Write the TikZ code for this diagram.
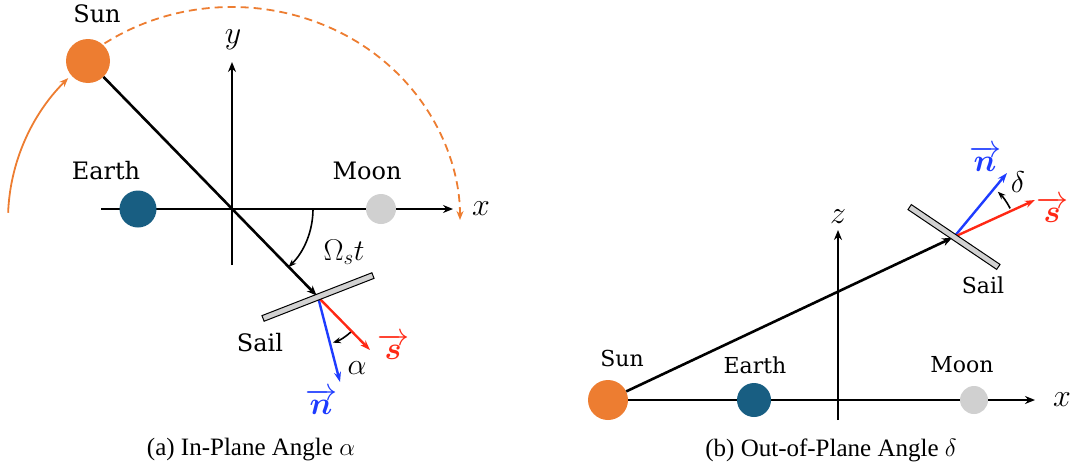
\RequirePackage{fix-cm}
\documentclass[tikz,border=0pt]{standalone}
\usepackage{amsmath}
\usepackage{fontspec}
\setmainfont{Liberation Serif}
\newfontfamily\lblfont{DejaVu Serif}
\usetikzlibrary{arrows.meta,backgrounds,calc}
\definecolor{sunc}{RGB}{237,125,49}
\definecolor{earthc}{RGB}{24,94,130}
\definecolor{moonc}{RGB}{208,208,208}
\definecolor{nblue}{RGB}{30,60,255}
\definecolor{sred}{RGB}{255,40,20}
\definecolor{sailc}{RGB}{210,210,210}
\newcommand{\myvec}[1]{\overrightarrow{\boldsymbol{#1}}}
\tikzset{
  axisline/.style={line width=2.6pt, -{Stealth[length=10pt,width=8pt]}},
  sunline/.style={line width=2.6pt, -{Stealth[length=10pt,width=8pt]}},
  body/.style={circle, inner sep=0pt},
  lbl/.style={font=\lblfont\fontsize{24}{28}\selectfont, inner sep=0pt},
  lblsm/.style={font=\lblfont\fontsize{22}{26}\selectfont, inner sep=0pt},
  mlbl/.style={font=\fontsize{32}{36}\selectfont, inner sep=0pt},
  glbl/.style={font=\fontsize{30}{34}\selectfont, inner sep=0pt},
  vlbl/.style={font=\fontsize{32}{36}\selectfont, inner sep=0pt},
  caplbl/.style={font=\fontsize{25}{29}\selectfont, inner sep=0pt},
  sailbar/.style={draw=black, fill=sailc, line width=1pt, minimum height=6pt, inner sep=0pt},
  vecarrow/.style={line width=2.4pt, -{Stealth[length=10pt,width=7pt]}},
  anglearrow/.style={line width=1.6pt, -{Stealth[length=8pt,width=6pt]}},
  orbit/.style={draw=sunc, line width=1.8pt, -{Stealth[length=9pt,width=7pt]}},
}
\begin{document}
\begin{tikzpicture}[x=1pt,y=-1pt]
\useasboundingbox (0,0) rectangle (1071,471);
% ---------------- left panel ----------------
\coordinate (O) at (232,209);
\coordinate (P) at (318,297);
\coordinate (C) at (232,220);
\coordinate (xAs) at (101,209);
\coordinate (xAe) at (453,209);
\coordinate (yAs) at (232,265);
\coordinate (yAe) at (232,62);
\coordinate (nA) at (340,382);
\coordinate (sA) at (370,350);
\node[body, fill=sunc, minimum size=44pt] (sunA) at (88,61) {};
\node[body, fill=earthc, minimum size=37pt] (earthA) at (138,209) {};
\node[body, fill=moonc, minimum size=30pt] (moonA) at (381,209) {};
\begin{scope}[on background layer]
  \draw[axisline] (xAs) -- (xAe);
  \draw[axisline] (yAs) -- (yAe);
\end{scope}
\draw[sunline, shorten >=2pt] (sunA) -- (P);
\draw[vecarrow, nblue] (P) -- (nA);
\draw[vecarrow, sred] (P) -- (sA);
\node[sailbar, minimum width=118pt, rotate=21.3] (sailA) at (P) {};
\draw[anglearrow] ($(O)+(0:81)$) arc[start angle=0, end angle=45.8, radius=81];
\draw[anglearrow] ($(P)+(47:48)$) arc[start angle=47, end angle=72, radius=48];
\draw[orbit, dashed, dash pattern=on 8pt off 5pt] ($(C)+(-124:228 and 213)$) arc[start angle=-124, end angle=0, x radius=228, y radius=213];
\draw[orbit] ($(C)+(-178:224 and 208)$) arc[start angle=-178, end angle=-137, x radius=224, y radius=208];
\node[lbl] (sunAl) at (97,14) {Sun};
\node[lbl] (earthAl) at (106,171) {Earth};
\node[lbl] (moonAl) at (367,171) {Moon};
\node[lbl] (sailAl) at (260,343) {Sail};
\node[mlbl] (yAl) at (233,40) {$y$};
\node[mlbl] (xAl) at (481,209) {$x$};
\node[glbl] (omAl) at (344,252) {$\Omega_s t$};
\node[glbl] (alAl) at (357,368) {$\alpha$};
\node[vlbl, text=nblue] (nAl) at (321,402) {$\myvec{n}$};
\node[vlbl, text=sred] (sAl) at (393,347) {$\myvec{s}$};
\node[caplbl] (capA) at (251,450) {(a) In-Plane Angle $\alpha$};
% ---------------- right panel ----------------
\coordinate (S) at (954,237);
\coordinate (xBe) at (1035,400);
\coordinate (zBs) at (838,420);
\coordinate (zBe) at (838,230);
\coordinate (nB) at (1007,173);
\coordinate (sB) at (1035,200);
\node[body, fill=sunc, minimum size=40pt] (sunB) at (608,400) {};
\node[body, fill=earthc, minimum size=34pt] (earthB) at (754,400) {};
\node[body, fill=moonc, minimum size=28pt] (moonB) at (974,400) {};
\begin{scope}[on background layer]
  \draw[axisline] (sunB.center) -- (xBe);
  \draw[axisline] (zBs) -- (zBe);
\end{scope}
\draw[sunline, shorten >=2pt] (sunB) -- (S);
\draw[vecarrow, nblue] (S) -- (nB);
\draw[vecarrow, sred] (S) -- (sB);
\node[sailbar, minimum width=107pt, rotate=-34] (sailB) at (S) {};
\draw[anglearrow] ($(S)+(-27:63)$) arc[start angle=-27, end angle=-46, radius=63];
\node[lblsm] (sunBl) at (622,358) {Sun};
\node[lblsm] (earthBl) at (755,365) {Earth};
\node[lblsm] (moonBl) at (962,365) {Moon};
\node[lblsm] (sailBl) at (983,285) {Sail};
\node[mlbl] (zBl) at (838,217) {$z$};
\node[mlbl] (xBl) at (1062,400) {$x$};
\node[glbl] (dBl) at (1018,182) {$\delta$};
\node[vlbl, text=nblue] (nBl) at (985,159) {$\myvec{n}$};
\node[vlbl, text=sred] (sBl) at (1052,210) {$\myvec{s}$};
\node[caplbl] (capB) at (831,450) {(b) Out-of-Plane Angle $\delta$};
\end{tikzpicture}
\end{document}
